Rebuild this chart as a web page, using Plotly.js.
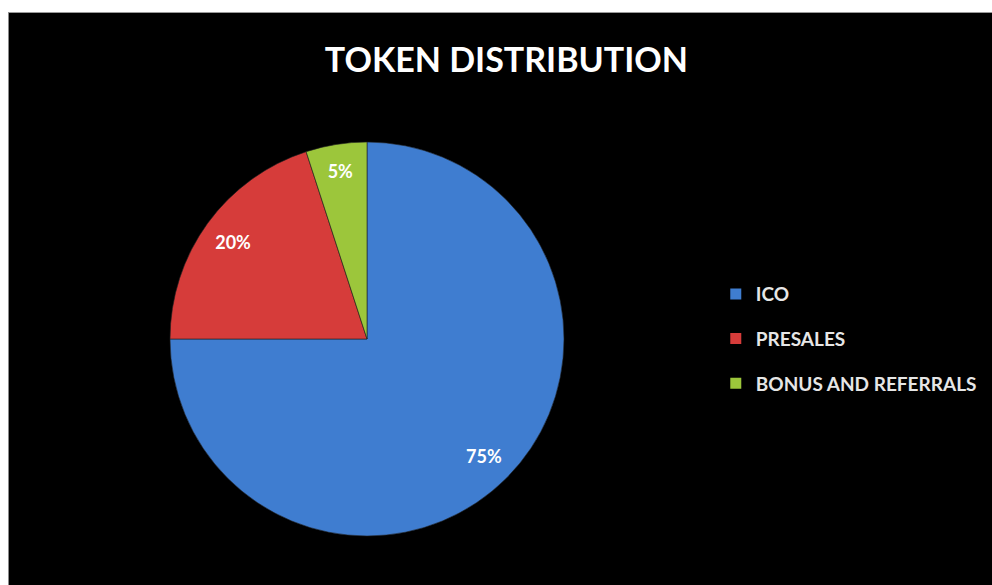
<!DOCTYPE html>
<html>
<head>
<meta charset="utf-8">
<script src="https://cdn.plot.ly/plotly-3.0.1.min.js"></script>
<style>
  html, body { margin: 0; padding: 0; background: #ffffff; width: 992px; height: 585px; overflow: hidden; }
  #frame { position: absolute; left: 8px; top: 12px; width: 984px; height: 573px;
           border-left: 1px solid #8a8a8a; border-top: 1px solid #9a9a9a; box-sizing: border-box; }
  #chart { position: absolute; left: 0; top: 0; width: 983px; height: 572px; }
</style>
</head>
<body>
<div id="frame"><div id="chart"></div></div>
<script>
const categories = ['ICO', 'PRESALES', 'BONUS AND REFERRALS'];
const shares = [75, 20, 5];
const sliceColors = ['#3F7DD0', '#D63C3A', '#9CC63B'];
const chartTitle = 'TOKEN DISTRIBUTION';

const pieDomain = { x: [0.1638, 0.5646], y: [0.0839, 0.7762] };

const traces = [
  {
    type: 'pie',
    labels: categories,
    values: shares,
    sort: false,
    direction: 'clockwise',
    rotation: 0,
    domain: pieDomain,
    marker: { colors: sliceColors, line: { color: '#202020', width: 0.6 } },
    textinfo: 'none',
    showlegend: false,
    hoverinfo: 'label+percent'
  },
  {
    type: 'pie',
    labels: categories,
    values: shares,
    sort: false,
    direction: 'clockwise',
    rotation: 0,
    hole: 0.68,
    domain: pieDomain,
    marker: { colors: ['rgba(0,0,0,0)', 'rgba(0,0,0,0)', 'rgba(0,0,0,0)'], line: { width: 0 } },
    textinfo: 'percent',
    texttemplate: '%{percent:.0%}',
    textposition: 'inside',
    insidetextorientation: 'horizontal',
    textfont: { family: 'Lato, sans-serif', size: 18, color: '#ffffff', weight: 'bold' },
    showlegend: false,
    hoverinfo: 'skip'
  }
];

categories.forEach(function (name, i) {
  traces.push({
    type: 'scatter',
    x: [null], y: [null],
    mode: 'markers',
    name: name,
    legendgroup: 'g' + i,
    marker: { symbol: 'square', size: 11, color: sliceColors[i] },
    showlegend: true,
    hoverinfo: 'skip'
  });
});

const layout = {
  width: 983, height: 572,
  margin: { l: 0, r: 0, t: 0, b: 0 },
  paper_bgcolor: '#000000',
  plot_bgcolor: 'rgba(0,0,0,0)',
  title: {
    text: chartTitle,
    x: 0.506, xanchor: 'center',
    y: 0.918, yanchor: 'middle', yref: 'container',
    font: { family: 'Lato, sans-serif', size: 34, color: '#ffffff', weight: 'bold' }
  },
  xaxis: { visible: false },
  yaxis: { visible: false },
  showlegend: true,
  legend: {
    x: 0.719, xanchor: 'left',
    y: 0.43, yanchor: 'middle',
    tracegroupgap: 17,
    bgcolor: 'rgba(0,0,0,0)',
    font: { family: 'Lato, sans-serif', size: 19, color: '#e6e6e6', weight: 'bold' },
    itemwidth: 30
  }
};

Plotly.newPlot('chart', traces, layout, { displayModeBar: false, staticPlot: true });
</script>
</body>
</html>
